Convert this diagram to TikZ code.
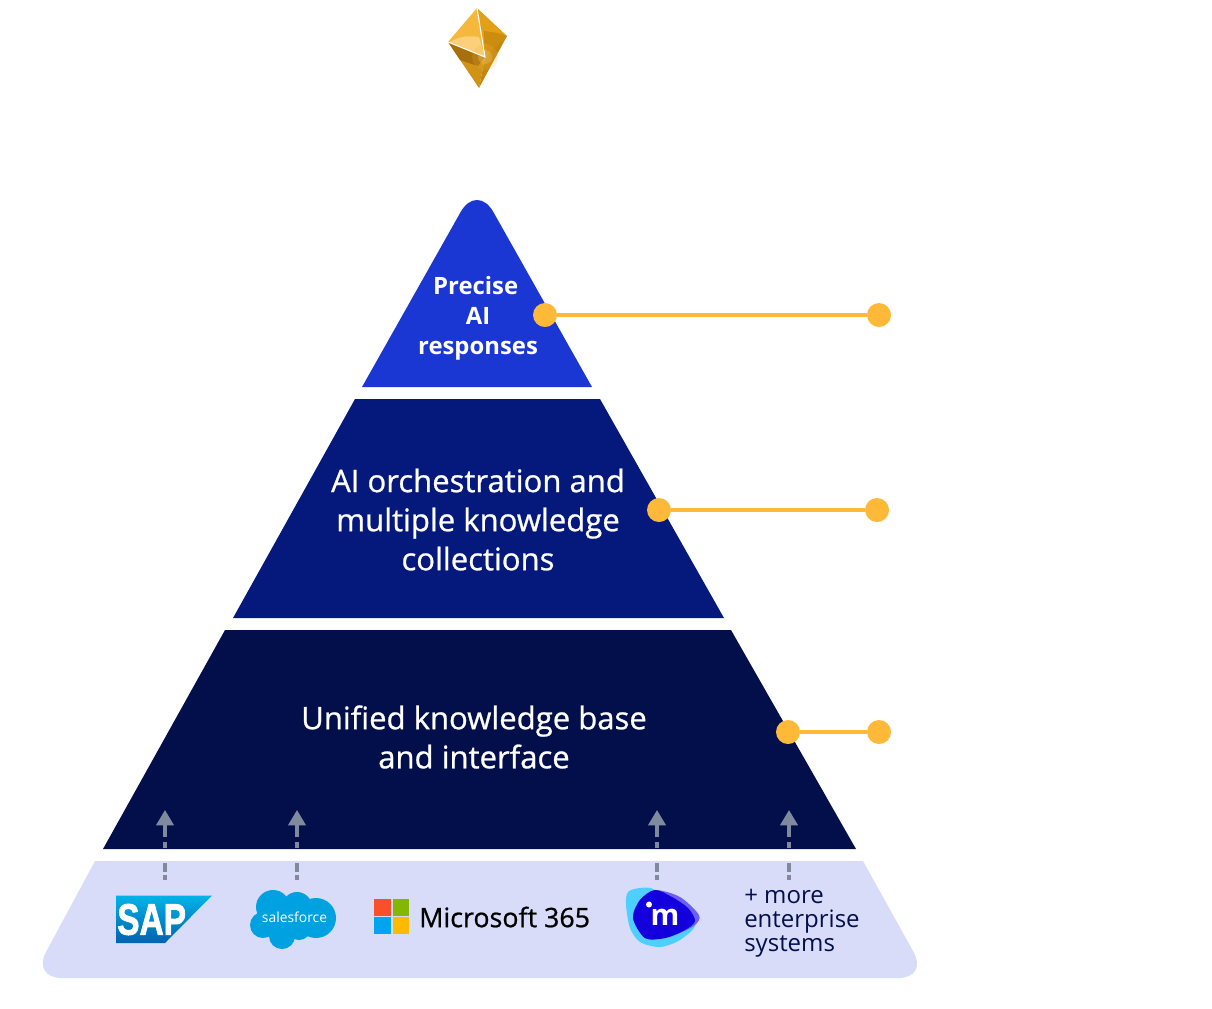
\documentclass[tikz,border=0pt]{standalone}
\usepackage{graphicx}
\usepackage{fontspec}
\setmainfont{Open Sans}
\newfontfamily\logofont[FakeBold=2]{Liberation Sans}
\newfontfamily\medfont[FakeBold=0.8]{Open Sans}
\usetikzlibrary{arrows.meta}
\definecolor{tierTop}{HTML}{1A36D3}
\definecolor{tierMid}{HTML}{04197B}
\definecolor{tierLow}{HTML}{030F4B}
\definecolor{tierBase}{HTML}{D9DCF9}
\definecolor{dotGold}{HTML}{FFB938}
\definecolor{arrowGrey}{HTML}{808A9E}
\definecolor{sapTop}{HTML}{00B4E8}
\definecolor{sapLow}{HTML}{0062AE}
\definecolor{cloudBlue}{HTML}{00A1E0}
\definecolor{msRed}{HTML}{F8512A}
\definecolor{msGreen}{HTML}{82B900}
\definecolor{msBlue}{HTML}{00A4EF}
\definecolor{msYellow}{HTML}{FFB900}
\definecolor{blobCyan}{HTML}{4DD0FF}
\definecolor{blobViolet}{HTML}{6A60F5}
\definecolor{blobBlue}{HTML}{1400DC}
\tikzset{
  tierlabel/.style={text=white,align=center,font=\medfont\fontsize{23.3}{29.3}\selectfont},
  toplabel/.style={text=white,align=center,font=\bfseries\fontsize{17.9}{22.5}\selectfont},
  golddot/.style={circle,fill=dotGold,minimum size=18pt,inner sep=0pt},
  goldline/.style={draw=dotGold,line width=3.3pt},
  uparrow/.style={draw=arrowGrey,line width=2.3pt,
    dash pattern=on 3.75pt off 2.25pt on 6.75pt off 11.25pt on 4.5pt off 3.75pt on 6.75pt off 0pt,
    -{Triangle[length=11.5pt,width=13pt,fill=arrowGrey]}}
}
\begin{document}
\begin{tikzpicture}[x=0.75pt,y=-0.75pt]
  \useasboundingbox (0,0) rectangle (1212,1008);
  \fill [tierBase] (95,861) -- (863,861) [rounded corners=22pt] -- (928,978) -- (32,978) [sharp corners] -- cycle;
  \fill [tierLow] (225,630) -- (731,630) -- (856,849) -- (103,849) -- cycle;
  \fill [tierMid] (355,399) -- (600,399) -- (724,618) -- (233,618) -- cycle;
  \fill [tierTop] (592,387) -- (362,387) [rounded corners=25pt] -- (477,183) [sharp corners] -- cycle;

  \coordinate (sapFrom) at (165,880);
  \coordinate (sapTo) at (165,810);
  \coordinate (cloudFrom) at (297,880);
  \coordinate (cloudTo) at (297,810);
  \coordinate (blobFrom) at (657,880);
  \coordinate (blobTo) at (657,810);
  \coordinate (moreFrom) at (789,880);
  \coordinate (moreTo) at (789,810);
  \draw [uparrow] (sapFrom) -- (sapTo);
  \draw [uparrow] (cloudFrom) -- (cloudTo);
  \draw [uparrow] (blobFrom) -- (blobTo);
  \draw [uparrow] (moreFrom) -- (moreTo);

  \node [golddot] (preciseIn) at (545,315) {};
  \node [golddot] (preciseOut) at (879,315) {};
  \node [golddot] (orchestrationIn) at (659,510) {};
  \node [golddot] (orchestrationOut) at (877,510) {};
  \node [golddot] (unifiedIn) at (788,732) {};
  \node [golddot] (unifiedOut) at (879,732) {};
  \draw [goldline] (preciseIn) -- (preciseOut);
  \draw [goldline] (orchestrationIn) -- (orchestrationOut);
  \draw [goldline] (unifiedIn) -- (unifiedOut);

  \node [toplabel] (precise) at (478,318) {Precise\hspace*{3.5pt}\\AI\\responses};
  \node [tierlabel] (orchestration) at (478,519.5) {AI orchestration and\\multiple knowledge\\collections};
  \node [tierlabel] (unified) at (474,737) {Unified knowledge base\\and interface};

  \shade [top color=sapTop,bottom color=sapLow] (116,895.5) -- (212,895.5) -- (165,943) -- (116,943) -- cycle;
  \node [anchor=west,text=white,inner sep=0pt] (sap) at (117,919.5) {\scalebox{0.76}[1]{\logofont\bfseries\fontsize{33}{33}\selectfont SAP}};

  \fill [cloudBlue] (273,907) circle (17);
  \fill [cloudBlue] (297,907) circle (15);
  \fill [cloudBlue] (316,918) circle (20);
  \fill [cloudBlue] (299,928) circle (12);
  \fill [cloudBlue] (282,936) circle (13);
  \fill [cloudBlue] (263,925) circle (13);
  \fill [cloudBlue] (285,918) circle (18);
  \node [text=white,inner sep=0pt] (salesforce) at (294.5,917) {\fontsize{10.4}{10.4}\selectfont salesforce};

  \fill [msRed] (374,899) rectangle (391.3,915.7);
  \fill [msGreen] (392.7,899) rectangle (409,915.7);
  \fill [msBlue] (374,917) rectangle (391.3,933.5);
  \fill [msYellow] (392.7,917) rectangle (409,933.5);
  \node [anchor=west,inner sep=0pt,text=black] (microsoft) at (419,917) {\medfont\fontsize{20.1}{20.1}\selectfont Microsoft 365};

  \fill [blobCyan] plot [smooth cycle] coordinates {(626,905) (628,892) (640,888) (655,890) (675,915) (695,925) (680,940) (660,947) (640,942) (630,928)};
  \fill [blobViolet] plot [smooth cycle] coordinates {(633,918) (640,900) (655,890) (680,897) (699,915) (695,925) (680,933) (665,938) (645,938)};
  \fill [blobBlue] plot [smooth cycle] coordinates {(633,918) (640,900) (655,890) (672,897) (688,908) (695,921) (685,930) (665,938) (645,938)};
  \fill [white] (649,904.5) circle (3);
  \node [text=white,inner sep=0pt] (imanage) at (665,917) {\bfseries\fontsize{22}{22}\selectfont m};

  \node [anchor=west,inner sep=0pt,align=left,text=tierLow,font=\fontsize{18}{18}\selectfont] (more) at (744,923.5) {+ more\\enterprise\\systems};

  \fill [fill={rgb,255:red,245;green,184;blue,61}] (477,8) -- (448,42) -- (485,57) -- cycle;
  \fill [fill={rgb,255:red,252;green,207;blue,122}] (450,42) .. controls (462,35) and (470,36) .. (479,37) -- (485,57) -- cycle;
  \fill [fill={rgb,255:red,226;green,160;blue,24}] (477,8) -- (507,36) -- (485,57) -- cycle;
  \fill [fill={rgb,255:red,204;green,140;blue,14}] (484,31) .. controls (492,32) and (500,33) .. (507,36) -- (485,57) -- cycle;
  \fill [fill={rgb,255:red,208;green,147;blue,24}] (448,42) -- (479,88) -- (485,57) -- cycle;
  \fill [fill={rgb,255:red,168;green,112;blue,12}] (448,42) -- (485,57) -- (478,66) -- (460,60) -- cycle;
  \fill [fill={rgb,255:red,196;green,134;blue,15}] (507,36) -- (479,88) -- (485,57) -- cycle;
  \fill [fill={rgb,255:red,240;green,180;blue,60},opacity=0.2] (485,57) circle (13);
  \fill [fill={rgb,255:red,250;green,210;blue,120},opacity=0.3] (485,57) circle (7);
  \draw [white,line width=0.8pt] (477,8) -- (485,57) -- (448,42);
\end{tikzpicture}
\end{document}
